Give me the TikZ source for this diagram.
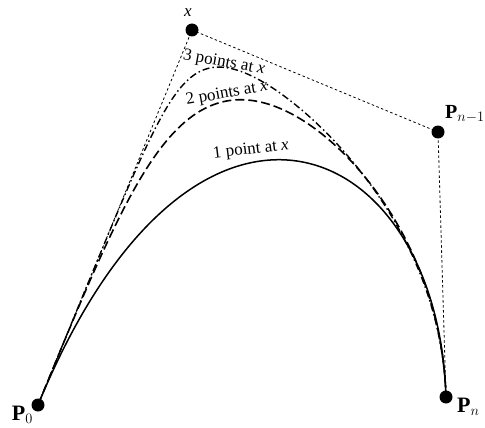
\documentclass[tikz,border=0pt]{standalone}
\usepackage{fontspec}
\setmainfont{Liberation Serif}
\usetikzlibrary{positioning,calc}

\begin{document}
\begin{tikzpicture}[
  x=1pt, y=-1pt,
  dot/.style={circle, fill=black, inner sep=0pt, minimum size=13pt},
  poly/.style={line width=0.8pt, dash pattern=on 2.5pt off 2.5pt},
  onecurve/.style={line width=1.5pt},
  twocurve/.style={line width=1.6pt, dash pattern=on 9pt off 4pt},
  threecurve/.style={line width=1.4pt, dash pattern=on 7pt off 3pt on 1.5pt off 3pt},
  ptlbl/.style={font=\fontsize{22}{24}\selectfont, inner sep=0pt},
  crvlbl/.style={font=\fontsize{17}{19}\selectfont, inner sep=0pt},
  declare function={
    % quartic: P0, x, x, Pn-1, Pn
    bfour(\t,\a,\b,\c,\d)=(1-\t)^4*\a + (4*(1-\t)^3*\t + 6*(1-\t)^2*\t^2)*\b
      + 4*(1-\t)*\t^3*\c + \t^4*\d;
    % quintic: P0, x, x, x, Pn-1, Pn
    bfive(\t,\a,\b,\c,\d)=(1-\t)^5*\a + (5*(1-\t)^4*\t + 10*(1-\t)^3*\t^2
      + 10*(1-\t)^2*\t^3)*\b + 5*(1-\t)*\t^4*\c + \t^5*\d;
  },
]
\useasboundingbox (0,0) rectangle (485,428);
% control points
\coordinate (p0) at (38,405);
\coordinate (px) at (192,30);
\coordinate (pn1) at (438,132);
\coordinate (pn) at (446,397);
% control polygon
\draw[poly] (p0) -- (px) -- (pn1) -- (pn);
% curves
\draw[onecurve] (p0) .. controls (px) and (pn1) .. (pn);
\draw[twocurve] plot[domain=0:1, samples=120, variable=\t]
  ({bfour(\t,38,192,438,446)}, {bfour(\t,405,30,132,397)});
\draw[threecurve] plot[domain=0:1, samples=120, variable=\t]
  ({bfive(\t,38,192,438,446)}, {bfive(\t,405,30,132,397)});
% points
\foreach \p in {p0,px,pn1,pn}
  \node[dot] (\p dot) at (\p) {};
% labels
\node[ptlbl, anchor=base east] at ([shift={(-5pt,-15pt)}]p0) {$\mathbf{P}_0$};
\node[ptlbl, anchor=base west] at ([shift={(11pt,-15pt)}]pn) {$\mathbf{P}_n$};
\node[ptlbl, anchor=base west, font=\fontsize{20}{22}\selectfont]
  at ([shift={(7pt,14pt)}]pn1) {$\mathbf{P}_{n-1}$};
\node[crvlbl, anchor=base] at ([shift={(-4pt,13pt)}]px) {\textit{x}};
\node[crvlbl, rotate=7] (lblone) at (251,150) {1 point at \textit{x}};
\node[crvlbl, rotate=10] (lbltwo) at (227,94) {2 points at \textit{x}};
\node[crvlbl, rotate=-10] (lblthree) at (224,63) {3 points at \textit{x}};
\end{tikzpicture}
\end{document}
